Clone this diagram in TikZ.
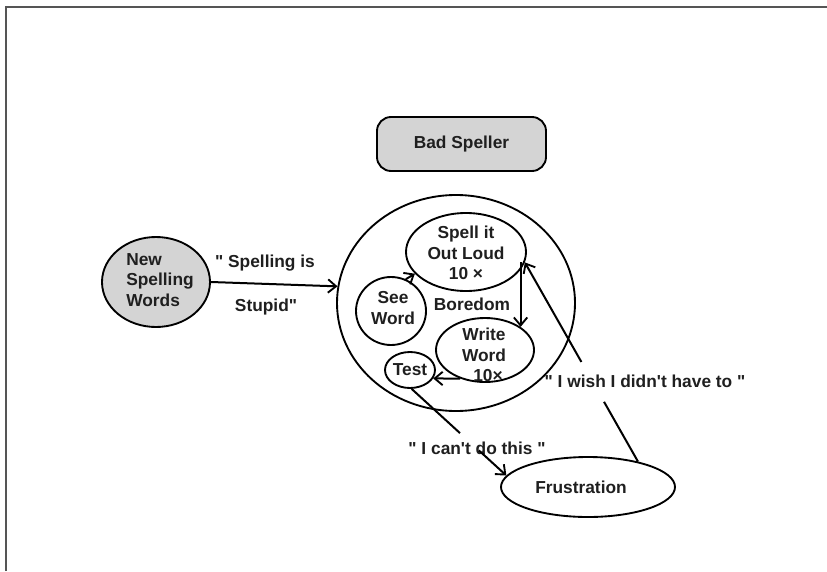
\documentclass[tikz,border=0pt]{standalone}
\usepackage{fontspec}
\newfontfamily\dfont{Liberation Sans}
\usetikzlibrary{arrows.meta,calc,shapes.geometric}
\definecolor{shade}{HTML}{D4D4D4}
\definecolor{framegray}{HTML}{555555}
\begin{document}
\begin{tikzpicture}[x=0.75pt,y=-0.75pt,
  outline/.style={draw=black,line width=1.4pt},
  oval/.style={outline,ellipse,inner sep=0pt},
  lbl/.style={font=\dfont\bfseries\fontsize{13}{15.5}\selectfont,text=black!88,inner sep=0pt,align=center},
  link/.style={line width=1.5pt},
  arr/.style={link,-{Straight Barb[length=6pt,width=10pt,line width=1.4pt]}},
]
\useasboundingbox (0,0) rectangle (827,571);
% page frame (top and left rules)
\draw[framegray,line width=1.6pt] (6,571) -- (6,7) -- (827,7);

% shapes
\node[outline,fill=shade,rounded corners=10.5pt,minimum width=126.75pt,minimum height=40.5pt,lbl] (bad) at (461.5,144) {Bad Speller};
\node[oval,minimum width=178.5pt,minimum height=162pt] (big) at (456,303) {};
\node[oval,fill=shade,minimum width=81pt,minimum height=67.5pt] (new) at (156,282) {};
\node[oval,minimum width=90pt,minimum height=58.5pt] (spell) at (466,252) {};
\node[oval,minimum width=52.5pt,minimum height=51pt] (see) at (391,311) {};
\node[oval,minimum width=73.5pt,minimum height=48pt] (write) at (485,350) {};
\node[oval,minimum width=37.5pt,minimum height=27pt] (test) at (410,370) {};
\node[oval,minimum width=130.5pt,minimum height=45pt] (frus) at (588,487) {};

% texts
\node[lbl,align=left] (newT) at (160,280) {New\\Spelling\\Words};
\node[lbl] (spellT) at (466,253) {Spell it\\Out Loud\\10 ×};
\node[lbl] (seeT) at (393,308) {See\\Word};
\node[lbl] (boredom) at (472,304) {Boredom};
\node[lbl] (writeT) at (484,355) {Write\\Word\\\hspace*{6pt}10×};
\node[lbl] (testT) at (410,370) {Test};
\node[lbl] (frusT) at (581,487) {Frustration};
\node[lbl] (stupid1) at (265,263) {" Spelling is};
\node[lbl] (stupid2) at (266,307) {Stupid"};
\node[lbl] (cant) at (477,448) {" I can't do this "};
\node[lbl] (wish) at (645,381) {" I wish I didn't have to "};

% connectors
\draw[arr] (new.east) -- (big.172);
\draw[arr] (see.65) -- (spell.203);
\draw[arr] (write.33 |- spell.-10) -- (write.33);
\draw[arr] (write.229) -- (test.-20);
\draw[link] (test.-85) -- ($(test.-85)!0.51!(frus.172)$);
\draw[arr] ($(test.-85)!0.71!(frus.172)$) -- (frus.172);
\draw[link] (frus.27) -- ($(frus.27)!0.3!(spell.-10)$);
\draw[arr] ($(frus.27)!0.5!(spell.-10)$) -- (spell.-10);
\end{tikzpicture}
\end{document}
